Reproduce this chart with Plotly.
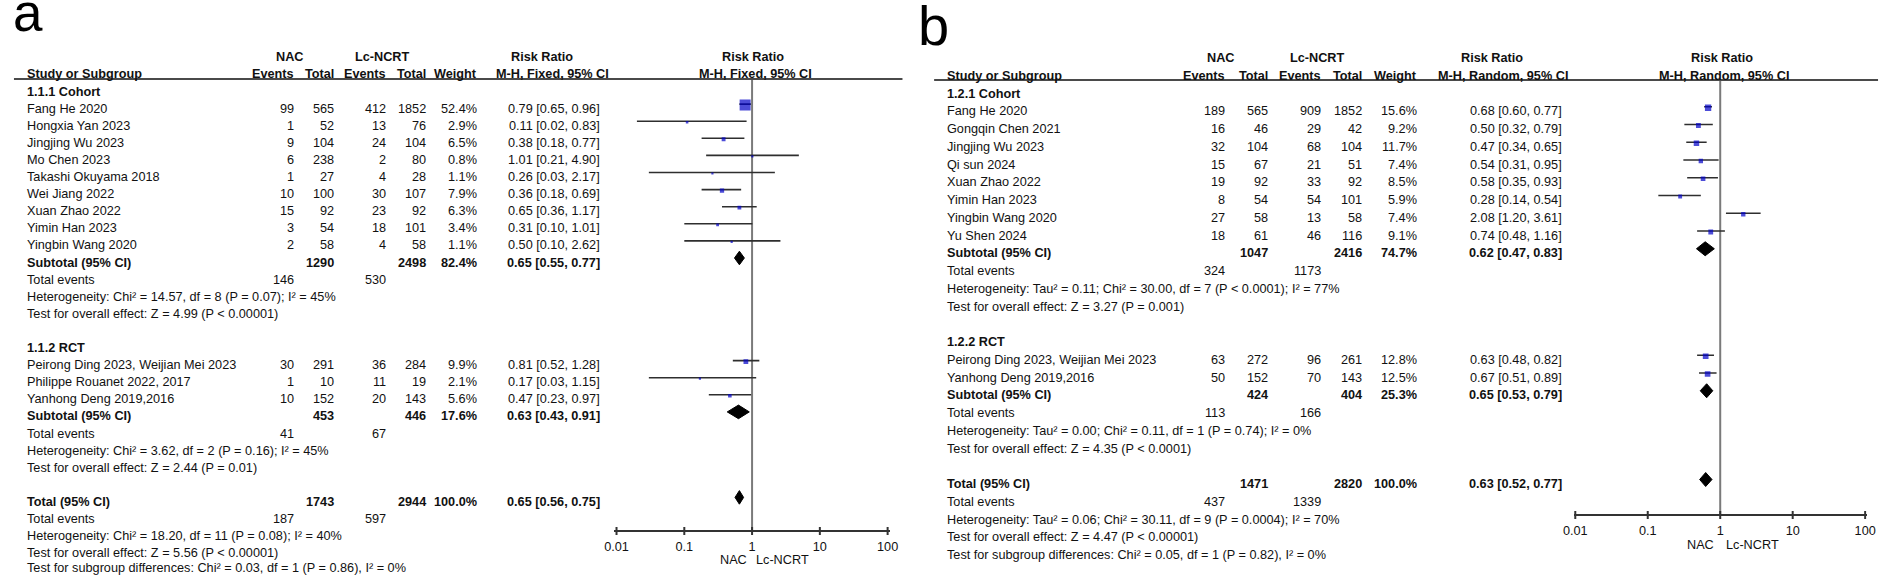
import plotly.graph_objects as go

W, H = 1890, 577
FONT = "Liberation Sans, Arial, sans-serif"
FS = 12.7
TXT = "#111111"

# ---------------- Panel a data (M-H, Fixed) ----------------
a_coh_names = ["Fang He 2020", "Hongxia Yan 2023", "Jingjing Wu 2023", "Mo Chen 2023",
               "Takashi Okuyama 2018", "Wei Jiang 2022", "Xuan Zhao 2022", "Yimin Han 2023",
               "Yingbin Wang 2020"]
a_coh_nac_ev = [99, 1, 9, 6, 1, 10, 15, 3, 2]
a_coh_nac_tot = [565, 52, 104, 238, 27, 100, 92, 54, 58]
a_coh_lc_ev = [412, 13, 24, 2, 4, 30, 23, 18, 4]
a_coh_lc_tot = [1852, 76, 104, 80, 28, 107, 92, 101, 58]
a_coh_weight = [52.4, 2.9, 6.5, 0.8, 1.1, 7.9, 6.3, 3.4, 1.1]
a_coh_rr = [0.79, 0.11, 0.38, 1.01, 0.26, 0.36, 0.65, 0.31, 0.50]
a_coh_lo = [0.65, 0.02, 0.18, 0.21, 0.03, 0.18, 0.36, 0.10, 0.10]
a_coh_hi = [0.96, 0.83, 0.77, 4.90, 2.17, 0.69, 1.17, 1.01, 2.62]
a_coh_sub = dict(nac_tot=1290, lc_tot=2498, weight=82.4, rr=0.65, lo=0.55, hi=0.77,
                 nac_ev=146, lc_ev=530)
a_coh_het = "Heterogeneity: Chi² = 14.57, df = 8 (P = 0.07); I² = 45%"
a_coh_test = "Test for overall effect: Z = 4.99 (P < 0.00001)"

a_rct_names = ["Peirong Ding 2023, Weijian Mei 2023", "Philippe Rouanet 2022, 2017",
               "Yanhong Deng 2019,2016"]
a_rct_nac_ev = [30, 1, 10]
a_rct_nac_tot = [291, 10, 152]
a_rct_lc_ev = [36, 11, 20]
a_rct_lc_tot = [284, 19, 143]
a_rct_weight = [9.9, 2.1, 5.6]
a_rct_rr = [0.81, 0.17, 0.47]
a_rct_lo = [0.52, 0.03, 0.23]
a_rct_hi = [1.28, 1.15, 0.97]
a_rct_sub = dict(nac_tot=453, lc_tot=446, weight=17.6, rr=0.63, lo=0.43, hi=0.91,
                 nac_ev=41, lc_ev=67)
a_rct_het = "Heterogeneity: Chi² = 3.62, df = 2 (P = 0.16); I² = 45%"
a_rct_test = "Test for overall effect: Z = 2.44 (P = 0.01)"

a_total = dict(nac_tot=1743, lc_tot=2944, weight=100.0, rr=0.65, lo=0.56, hi=0.75,
               nac_ev=187, lc_ev=597)
a_total_het = "Heterogeneity: Chi² = 18.20, df = 11 (P = 0.08); I² = 40%"
a_total_test = "Test for overall effect: Z = 5.56 (P < 0.00001)"
a_subgroup_test = "Test for subgroup differences: Chi² = 0.03, df = 1 (P = 0.86), I² = 0%"

# ---------------- Panel b data (M-H, Random) ----------------
b_coh_names = ["Fang He 2020", "Gongqin Chen 2021", "Jingjing Wu 2023", "Qi sun 2024",
               "Xuan Zhao 2022", "Yimin Han 2023", "Yingbin Wang 2020", "Yu Shen 2024"]
b_coh_nac_ev = [189, 16, 32, 15, 19, 8, 27, 18]
b_coh_nac_tot = [565, 46, 104, 67, 92, 54, 58, 61]
b_coh_lc_ev = [909, 29, 68, 21, 33, 54, 13, 46]
b_coh_lc_tot = [1852, 42, 104, 51, 92, 101, 58, 116]
b_coh_weight = [15.6, 9.2, 11.7, 7.4, 8.5, 5.9, 7.4, 9.1]
b_coh_rr = [0.68, 0.50, 0.47, 0.54, 0.58, 0.28, 2.08, 0.74]
b_coh_lo = [0.60, 0.32, 0.34, 0.31, 0.35, 0.14, 1.20, 0.48]
b_coh_hi = [0.77, 0.79, 0.65, 0.95, 0.93, 0.54, 3.61, 1.16]
b_coh_sub = dict(nac_tot=1047, lc_tot=2416, weight=74.7, rr=0.62, lo=0.47, hi=0.83,
                 nac_ev=324, lc_ev=1173)
b_coh_het = "Heterogeneity: Tau² = 0.11; Chi² = 30.00, df = 7 (P < 0.0001); I² = 77%"
b_coh_test = "Test for overall effect: Z = 3.27 (P = 0.001)"

b_rct_names = ["Peirong Ding 2023, Weijian Mei 2023", "Yanhong Deng 2019,2016"]
b_rct_nac_ev = [63, 50]
b_rct_nac_tot = [272, 152]
b_rct_lc_ev = [96, 70]
b_rct_lc_tot = [261, 143]
b_rct_weight = [12.8, 12.5]
b_rct_rr = [0.63, 0.67]
b_rct_lo = [0.48, 0.51]
b_rct_hi = [0.82, 0.89]
b_rct_sub = dict(nac_tot=424, lc_tot=404, weight=25.3, rr=0.65, lo=0.53, hi=0.79,
                 nac_ev=113, lc_ev=166)
b_rct_het = "Heterogeneity: Tau² = 0.00; Chi² = 0.11, df = 1 (P = 0.74); I² = 0%"
b_rct_test = "Test for overall effect: Z = 4.35 (P < 0.0001)"

b_total = dict(nac_tot=1471, lc_tot=2820, weight=100.0, rr=0.63, lo=0.52, hi=0.77,
               nac_ev=437, lc_ev=1339)
b_total_het = "Heterogeneity: Tau² = 0.06; Chi² = 30.11, df = 9 (P = 0.0004); I² = 70%"
b_total_test = "Test for overall effect: Z = 4.47 (P < 0.00001)"
b_subgroup_test = "Test for subgroup differences: Chi² = 0.05, df = 1 (P = 0.82), I² = 0%"

tick_vals = [0.01, 0.1, 1, 10, 100]
tick_text = ["0.01", "0.1", "1", "10", "100"]

# ---------------- layout config ----------------
panels = [
    dict(key="a", xaxis="x", method="M-H, Fixed, 95% CI",
         label_x=14, cols=[288, 328, 381, 421, 473], rr_right=597,
         nac_c=282, lc_c=375, rrcol_c=(537, 547), plot_c=(750, 752),
         y0=91.5, dy=17.1, line=(3, 901, 79), axis_y=531,
         px0=612, px1=886, pad=2.74, rng=2.04, sq_k=1.52, dia_h=6.8,
         foot=(730, 780, 560),
         groups=[
             ("1.1.1 Cohort", a_coh_names, a_coh_nac_ev, a_coh_nac_tot, a_coh_lc_ev, a_coh_lc_tot,
              a_coh_weight, a_coh_rr, a_coh_lo, a_coh_hi, a_coh_sub, a_coh_het, a_coh_test),
             ("1.1.2 RCT", a_rct_names, a_rct_nac_ev, a_rct_nac_tot, a_rct_lc_ev, a_rct_lc_tot,
              a_rct_weight, a_rct_rr, a_rct_lo, a_rct_hi, a_rct_sub, a_rct_het, a_rct_test),
         ],
         total=a_total, total_het=a_total_het, total_test=a_total_test, sg=a_subgroup_test),
    dict(key="b", xaxis="x2", method="M-H, Random, 95% CI",
         label_x=944, cols=[1229, 1272, 1326, 1367, 1423], rr_right=1570,
         nac_c=1223, lc_c=1320, rrcol_c=(1497, 1508), plot_c=(1729, 1731),
         y0=93.5, dy=17.75, line=(933, 1887, 80), axis_y=515,
         px0=1581, px1=1874, pad=1.46, rng=2.02, sq_k=1.6, dia_h=7.0,
         foot=(1708, 1760, 545),
         groups=[
             ("1.2.1 Cohort", b_coh_names, b_coh_nac_ev, b_coh_nac_tot, b_coh_lc_ev, b_coh_lc_tot,
              b_coh_weight, b_coh_rr, b_coh_lo, b_coh_hi, b_coh_sub, b_coh_het, b_coh_test),
             ("1.2.2 RCT", b_rct_names, b_rct_nac_ev, b_rct_nac_tot, b_rct_lc_ev, b_rct_lc_tot,
              b_rct_weight, b_rct_rr, b_rct_lo, b_rct_hi, b_rct_sub, b_rct_het, b_rct_test),
         ],
         total=b_total, total_het=b_total_het, total_test=b_total_test, sg=b_subgroup_test),
]

fig = go.Figure()
annotations = []
shapes = []


def txt(x, y, s, anchor="left", bold=False, size=FS):
    annotations.append(dict(
        x=x / W, xref="paper", y=y, yref="y", text=("<b>%s</b>" % s) if bold else s,
        xanchor=anchor, yanchor="middle", showarrow=False,
        font=dict(family=FONT, size=size, color=TXT)))


def fmt_ci(rr, lo, hi):
    return "%.2f [%.2f, %.2f]" % (rr, lo, hi)


for P in panels:
    ty = lambda r, P=P: P["y0"] + P["dy"] * r
    my = lambda r, P=P: P["y0"] + P["dy"] * r - 4.5
    c = P["cols"]
    # headers
    txt(P["nac_c"], ty(-2), "NAC", "center", True)
    txt(P["lc_c"], ty(-2), "Lc-NCRT", "center", True)
    txt(P["rrcol_c"][0], ty(-2), "Risk Ratio", "center", True)
    txt(P["plot_c"][0], ty(-2), "Risk Ratio", "center", True)
    txt(P["label_x"], ty(-1), "Study or Subgroup", "left", True)
    for xr, s in zip(c, ["Events", "Total", "Events", "Total", "Weight"]):
        txt(xr, ty(-1), s, "right", True)
    txt(P["rrcol_c"][1], ty(-1), P["method"], "center", True)
    txt(P["plot_c"][1], ty(-1), P["method"], "center", True)
    lx0, lx1, ly = P["line"]
    shapes.append(dict(type="line", xref="paper", yref="y", x0=lx0 / W, x1=lx1 / W,
                       y0=ly, y1=ly, line=dict(color="#4a4a4a", width=2)))

    ci_x, ci_y, sq_x, sq_y, sq_s = [], [], [], [], []
    diamonds = []
    r = 0
    for (gname, names, ne, nt, le, lt, wt, rr, lo, hi, sub, het, test) in P["groups"]:
        txt(P["label_x"], ty(r), gname, "left", True)
        r += 1
        for i in range(len(names)):
            txt(P["label_x"], ty(r), names[i])
            txt(c[0], ty(r), str(ne[i]), "right")
            txt(c[1], ty(r), str(nt[i]), "right")
            txt(c[2], ty(r), str(le[i]), "right")
            txt(c[3], ty(r), str(lt[i]), "right")
            txt(c[4], ty(r), "%.1f%%" % wt[i], "right")
            txt(P["rr_right"], ty(r), fmt_ci(rr[i], lo[i], hi[i]), "right")
            ci_x += [lo[i], hi[i], None]
            ci_y += [my(r), my(r), None]
            sq_x.append(rr[i])
            sq_y.append(my(r) + 1)
            sq_s.append(max(2.2, P["sq_k"] * wt[i] ** 0.5))
            r += 1
        txt(P["label_x"], ty(r), "Subtotal (95% CI)", "left", True)
        txt(c[1], ty(r), str(sub["nac_tot"]), "right", True)
        txt(c[3], ty(r), str(sub["lc_tot"]), "right", True)
        txt(c[4], ty(r), "%.1f%%" % sub["weight"], "right", True)
        txt(P["rr_right"], ty(r), fmt_ci(sub["rr"], sub["lo"], sub["hi"]), "right", True)
        diamonds.append((sub["lo"], sub["rr"], sub["hi"], my(r)))
        r += 1
        txt(P["label_x"], ty(r), "Total events")
        txt(c[0], ty(r), str(sub["nac_ev"]), "right")
        txt(c[2], ty(r), str(sub["lc_ev"]), "right")
        r += 1
        txt(P["label_x"], ty(r), het)
        r += 1
        txt(P["label_x"], ty(r), test)
        r += 2
    T = P["total"]
    txt(P["label_x"], ty(r), "Total (95% CI)", "left", True)
    txt(c[1], ty(r), str(T["nac_tot"]), "right", True)
    txt(c[3], ty(r), str(T["lc_tot"]), "right", True)
    txt(c[4], ty(r), "%.1f%%" % T["weight"], "right", True)
    txt(P["rr_right"], ty(r), fmt_ci(T["rr"], T["lo"], T["hi"]), "right", True)
    diamonds.append((T["lo"], T["rr"], T["hi"], my(r)))
    r += 1
    txt(P["label_x"], ty(r), "Total events")
    txt(c[0], ty(r), str(T["nac_ev"]), "right")
    txt(c[2], ty(r), str(T["lc_ev"]), "right")
    r += 1
    txt(P["label_x"], ty(r), P["total_het"])
    r += 1
    txt(P["label_x"], ty(r), P["total_test"])
    r += 1
    txt(P["label_x"], min(ty(r), 568), P["sg"])

    xa = P["xaxis"]
    # vertical line of no effect
    fig.add_trace(go.Scatter(x=[1, 1], y=[ly, P["axis_y"]], mode="lines",
                             line=dict(color="#7a7a7a", width=2), xaxis=xa, yaxis="y",
                             hoverinfo="skip", showlegend=False))
    # CI lines
    fig.add_trace(go.Scatter(x=ci_x, y=ci_y, mode="lines", line=dict(color="#2e2e2e", width=1.6),
                             xaxis=xa, yaxis="y", hoverinfo="skip", showlegend=False))
    # squares
    fig.add_trace(go.Scatter(x=sq_x, y=sq_y, mode="markers",
                             marker=dict(symbol="square", size=sq_s, color="#0000c8",
                                         line=dict(width=0)),
                             xaxis=xa, yaxis="y", hoverinfo="skip", showlegend=False))
    # diamonds
    h = P["dia_h"]
    for lo_, est, hi_, yc in diamonds:
        fig.add_trace(go.Scatter(x=[lo_, est, hi_, est, lo_], y=[yc, yc - h, yc, yc + h, yc],
                                 mode="lines", fill="toself", fillcolor="black",
                                 line=dict(color="black", width=1), xaxis=xa, yaxis="y",
                                 hoverinfo="skip", showlegend=False))
    # tick marks crossing the axis
    tx, tyy = [], []
    for t in tick_vals:
        tx += [t, t, None]
        tyy += [P["axis_y"] - 4, P["axis_y"] + 4, None]
    fig.add_trace(go.Scatter(x=tx, y=tyy, mode="lines", line=dict(color="#333333", width=2),
                             xaxis=xa, yaxis="y", hoverinfo="skip", showlegend=False))
    fx1, fx2, fy = P["foot"]
    txt(fx1, fy, "NAC", "center")
    txt(fx2, fy, "Lc-NCRT", "center")

# panel letters
annotations.append(dict(x=0 / W, xref="paper", y=12, yref="y", text="a", xanchor="left",
                        yanchor="middle", showarrow=False,
                        font=dict(family=FONT, size=53, color="black")))
annotations.append(dict(x=915 / W, xref="paper", y=25, yref="y", text="b", xanchor="left",
                        yanchor="middle", showarrow=False,
                        font=dict(family=FONT, size=56, color="black")))


def xaxis_cfg(P):
    return dict(type="log", range=[-P["rng"], P["rng"]],
                domain=[(P["px0"] - P["pad"]) / W, (P["px1"] + P["pad"]) / W],
                anchor="free", position=1 - P["axis_y"] / H,
                showline=True, linecolor="#333333", linewidth=2,
                tickvals=tick_vals, ticktext=tick_text, ticks="outside", ticklen=4,
                tickcolor="rgba(0,0,0,0)", showgrid=False, zeroline=False,
                tickfont=dict(family=FONT, size=FS, color=TXT), fixedrange=True)


fig.update_layout(
    width=W, height=H, autosize=False,
    margin=dict(l=0, r=0, t=0, b=0),
    paper_bgcolor="white", plot_bgcolor="rgba(0,0,0,0)",
    xaxis=xaxis_cfg(panels[0]),
    xaxis2=xaxis_cfg(panels[1]),
    yaxis=dict(range=[H, 0], domain=[0, 1], visible=False, fixedrange=True,
               anchor="free", position=0),
    annotations=annotations, shapes=shapes, showlegend=False,
)

fig.write_html("out.html", config={"displayModeBar": False},
               post_script="document.body.style.margin='0';document.body.style.overflow='hidden';")
